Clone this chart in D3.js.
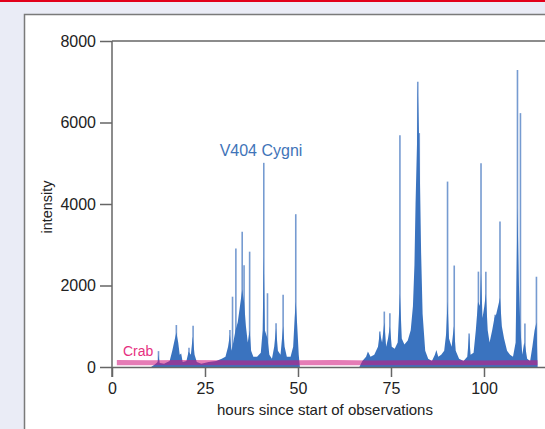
<!DOCTYPE html>
<html>
<head>
<meta charset="utf-8">
<script src="https://cdn.jsdelivr.net/npm/d3@7"></script>
<style>
  body { margin: 0; background: #eaecf6; }
  svg { display: block; }
</style>
</head>
<body>
<div id="grafico"></div>
<script>
// broad envelope of the V404 Cygni light curve [hour, intensity]
const envolvente = [
    [10.5, 0], [11.5, 60], [12.3, 120], [12.5, 300], [12.8, 100], [14, 80], [15.5, 150], [16.2, 400],
    [16.8, 650], [17.3, 850], [17.8, 600], [18.2, 300], [18.6, 330], [19, 120], [20, 150], [20.6, 380],
    [21.2, 300], [21.7, 750], [22.2, 300], [22.8, 120], [24, 80], [26, 120], [28, 150], [29.5, 200],
    [30.5, 250], [31.2, 500], [31.7, 800], [32.1, 400], [32.6, 600], [33.2, 900], [33.8, 1100], [34.4, 1500],
    [35, 1900], [35.5, 1600], [36, 1000], [36.5, 600], [37, 900], [37.4, 400], [38, 250], [39, 250],
    [40, 350], [40.5, 900], [40.8, 2700], [41.1, 900], [41.8, 700], [42.3, 300], [43, 200], [43.6, 500],
    [44.1, 950], [44.6, 400], [45.3, 300], [45.7, 700], [46, 1000], [46.4, 500], [47, 250], [48, 250],
    [48.7, 500], [49.1, 1200], [49.4, 1600], [49.8, 1000], [50.2, 300], [50.5, 0],
    [66.5, 0], [67.3, 150], [68.3, 250], [68.8, 380], [69.5, 250], [70.5, 300], [71.5, 500], [72, 850],
    [72.6, 600], [73.2, 1100], [73.7, 500], [74.2, 700], [74.7, 1000], [75.2, 500], [76, 450], [76.8, 600],
    [77.4, 1800], [77.9, 700], [78.6, 550], [79.5, 650], [80.3, 900], [80.9, 1500], [81.3, 2500], [81.6, 4000],
    [82.0, 5500], [82.2, 6900], [82.5, 5800], [82.8, 4500], [83.1, 2800], [83.5, 1300], [84.2, 400], [85, 200],
    [86, 150], [86.8, 300], [87.2, 420], [87.7, 250], [88.5, 300], [89.3, 400], [89.8, 800], [90.2, 1600],
    [90.6, 700], [91.3, 500], [91.9, 1000], [92.4, 400], [93.3, 200], [94.5, 150], [95.5, 250], [96, 800],
    [96.4, 300], [97.2, 350], [97.8, 900], [98.4, 1600], [98.9, 1500], [99.2, 2300], [99.6, 1200], [100.1, 1500],
    [100.5, 1800], [101, 900], [101.5, 600], [102.2, 900], [102.8, 1200], [103.3, 1300], [103.8, 1500], [104.3, 1700],
    [104.8, 1000], [105.4, 700], [106.2, 400], [107, 300], [107.8, 250], [108.5, 600], [109, 3900], [109.4, 2000],
    [109.8, 900], [110.3, 300], [110.8, 600], [111.1, 500], [111.6, 200], [112.4, 150], [113, 500], [113.6, 900],
    [114.1, 1100], [114.4, 0]
];

// thin flares: hour and peak intensity
const horasDestello = [12.5, 17.3, 20.7, 21.8, 31.7, 32.4, 33.3, 35.0, 35.5, 37.0, 40.8, 41.8, 44.1, 46.0, 49.4,
    72.0, 73.2, 74.7, 77.4, 82.2, 82.6, 90.2, 92.0, 96.0, 98.5, 99.2, 100.5, 103.0, 104.3, 109.0, 109.8, 111.0, 114.1];
const picosDestello = [390, 1030, 470, 1010, 910, 1725, 2910, 3320, 2500, 2830, 5010, 1810, 1075, 1770, 3750,
    870, 1360, 1320, 5690, 7000, 5740, 4550, 2490, 825, 2340, 5000, 2340, 1280, 3570, 7290, 6230, 1070, 2215];

// Crab reference source: hour, lower and upper edge of the band
const crab = [[1.3, 40, 170], [10, 40, 165], [20, 40, 170], [30, 40, 165], [40, 40, 160], [50, 40, 165],
    [60, 40, 170], [70, 40, 160], [80, 40, 165], [90, 40, 165], [100, 40, 160], [110, 40, 165], [114.4, 40, 165]];

const ticksY = [0, 2000, 4000, 6000, 8000];
const ticksX = [0, 25, 50, 75, 100];

const ancho = 545, alto = 429;
const margen = { izq: 112, sup: 41, der: 0, inf: 62 };

const $svg = d3.select("#grafico").append("svg")
    .attr("width", ancho)
    .attr("height", alto)
    .style("font-family", "'Liberation Sans', Arial, sans-serif");

$svg.append("rect").attr("width", ancho).attr("height", alto).attr("fill", "#eaecf6");
$svg.append("rect").attr("x", 0).attr("y", 0).attr("width", ancho).attr("height", 2).attr("fill", "#e2001a");
// white panel
$svg.append("rect")
    .attr("x", 24.5).attr("y", 14.5)
    .attr("width", 600).attr("height", 500)
    .attr("fill", "#ffffff")
    .attr("stroke", "#7a7a7a")
    .attr("stroke-width", 1.5);

const x = d3.scaleLinear().domain([0, 116.4]).range([margen.izq, ancho]);
const y = d3.scaleLinear().domain([0, 8000]).range([367, margen.sup]);

// flares first, envelope and Crab go on top
$svg.append("g")
    .selectAll("line")
    .data(horasDestello)
    .join("line")
    .attr("x1", d => x(d)).attr("x2", d => x(d))
    .attr("y1", y(0))
    .attr("y2", (d, i) => y(picosDestello[i]))
    .attr("stroke", "#5583c6")
    .attr("stroke-width", 1.6)
    .attr("opacity", 0.8);

const area = d3.area()
    .x(d => x(d[0]))
    .y0(y(0))
    .y1(d => y(d[1]));

$svg.append("path")
    .attr("d", area(envolvente))
    .attr("fill", "#3a73bf");

$svg.append("path")
    .attr("d", d3.area().x(d => x(d[0])).y0(d => y(d[1])).y1(d => y(d[2]))(crab))
    .attr("fill", "#d0107a")
    .attr("opacity", 0.55);

// axes
const ejeY = $svg.append("g")
    .attr("transform", `translate(${margen.izq},0)`)
    .call(d3.axisLeft(y).tickValues(ticksY).tickFormat(d3.format("d")).tickSize(12).tickPadding(4).tickSizeOuter(0));
const ejeX = $svg.append("g")
    .attr("transform", `translate(0,${y(0)})`)
    .call(d3.axisBottom(x).tickValues(ticksX).tickFormat(d3.format("d")).tickSize(10).tickPadding(6).tickSizeOuter(0));

[ejeY, ejeX].forEach(eje => {
    eje.selectAll("path, line").attr("stroke", "#666").attr("stroke-width", 1.5);
    eje.selectAll("text").attr("fill", "#222").attr("font-size", 16)
        .attr("font-family", "'Liberation Sans', Arial, sans-serif");
});
ejeY.select(".domain").attr("d", `M0,${y(8000)}V${y(0) + 10}`);

// top frame line at 8000
$svg.append("line")
    .attr("x1", margen.izq).attr("x2", ancho)
    .attr("y1", y(8000)).attr("y2", y(8000))
    .attr("stroke", "#666").attr("stroke-width", 1.5);

$svg.append("text")
    .attr("x", 325).attr("y", 415)
    .attr("text-anchor", "middle")
    .attr("font-size", 15)
    .attr("fill", "#222")
    .text("hours since start of observations");

$svg.append("text")
    .attr("transform", `translate(52,207) rotate(-90)`)
    .attr("text-anchor", "middle")
    .attr("font-size", 14.5)
    .attr("fill", "#222")
    .text("intensity");

$svg.append("text")
    .attr("x", 261).attr("y", 156)
    .attr("text-anchor", "middle")
    .attr("font-size", 16)
    .attr("fill", "#3f74b8")
    .text("V404 Cygni");

$svg.append("text")
    .attr("x", 123).attr("y", 356)
    .attr("font-size", 14)
    .attr("fill", "#e6307f")
    .text("Crab");
</script>
</body>
</html>
